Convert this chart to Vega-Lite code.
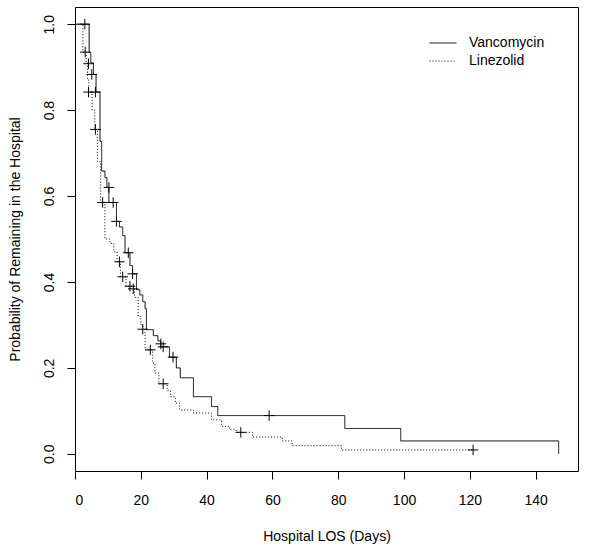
{
  "$schema": "https://vega.github.io/schema/vega-lite/v6.json",
  "width": 503,
  "height": 464,
  "autosize": {"type": "none"},
  "padding": {"left": 75, "top": 7, "right": 24, "bottom": 80},
  "background": "white",
  "config": {
    "view": {"stroke": "black", "strokeWidth": 1},
    "font": "Liberation Sans",
    "axis": {
      "domain": false,
      "grid": false,
      "tickColor": "black",
      "tickSize": 8,
      "tickWidth": 1,
      "labelColor": "black",
      "labelFont": "Liberation Sans",
      "labelFontSize": 14,
      "titleColor": "black",
      "titleFont": "Liberation Sans",
      "titleFontSize": 14,
      "titleFontWeight": "normal"
    }
  },
  "datasets": {
    "curves": [
      {"drug": "Vancomycin", "day": 0, "p": 1.0},
      {"drug": "Vancomycin", "day": 4.3, "p": 0.934},
      {"drug": "Vancomycin", "day": 4.8, "p": 0.91},
      {"drug": "Vancomycin", "day": 5.6, "p": 0.883},
      {"drug": "Vancomycin", "day": 6.4, "p": 0.842},
      {"drug": "Vancomycin", "day": 7.6, "p": 0.727},
      {"drug": "Vancomycin", "day": 8.1, "p": 0.658},
      {"drug": "Vancomycin", "day": 9.1, "p": 0.643},
      {"drug": "Vancomycin", "day": 9.7, "p": 0.62},
      {"drug": "Vancomycin", "day": 10.3, "p": 0.585},
      {"drug": "Vancomycin", "day": 12.6, "p": 0.541},
      {"drug": "Vancomycin", "day": 13.5, "p": 0.528},
      {"drug": "Vancomycin", "day": 14.5, "p": 0.508},
      {"drug": "Vancomycin", "day": 15.2, "p": 0.468},
      {"drug": "Vancomycin", "day": 16.7, "p": 0.438},
      {"drug": "Vancomycin", "day": 17.5, "p": 0.419},
      {"drug": "Vancomycin", "day": 18.7, "p": 0.382},
      {"drug": "Vancomycin", "day": 19.7, "p": 0.37},
      {"drug": "Vancomycin", "day": 20.6, "p": 0.354},
      {"drug": "Vancomycin", "day": 21.3, "p": 0.338},
      {"drug": "Vancomycin", "day": 21.7, "p": 0.289},
      {"drug": "Vancomycin", "day": 23.8, "p": 0.275},
      {"drug": "Vancomycin", "day": 25.2, "p": 0.263},
      {"drug": "Vancomycin", "day": 26.0, "p": 0.249},
      {"drug": "Vancomycin", "day": 28.7, "p": 0.225},
      {"drug": "Vancomycin", "day": 30.8, "p": 0.2},
      {"drug": "Vancomycin", "day": 32.0, "p": 0.177},
      {"drug": "Vancomycin", "day": 36.0, "p": 0.133},
      {"drug": "Vancomycin", "day": 41.5, "p": 0.11},
      {"drug": "Vancomycin", "day": 43.4, "p": 0.089},
      {"drug": "Vancomycin", "day": 82, "p": 0.059},
      {"drug": "Vancomycin", "day": 99, "p": 0.03},
      {"drug": "Vancomycin", "day": 147, "p": 0.0},
      {"drug": "Linezolid", "day": 0, "p": 1.0},
      {"drug": "Linezolid", "day": 2.4, "p": 0.935},
      {"drug": "Linezolid", "day": 3.4, "p": 0.91},
      {"drug": "Linezolid", "day": 3.8, "p": 0.87},
      {"drug": "Linezolid", "day": 4.2, "p": 0.842},
      {"drug": "Linezolid", "day": 5.2, "p": 0.8},
      {"drug": "Linezolid", "day": 6.0, "p": 0.755},
      {"drug": "Linezolid", "day": 6.8, "p": 0.68},
      {"drug": "Linezolid", "day": 7.8, "p": 0.585},
      {"drug": "Linezolid", "day": 9.1, "p": 0.5},
      {"drug": "Linezolid", "day": 10.6, "p": 0.49},
      {"drug": "Linezolid", "day": 11.8, "p": 0.47},
      {"drug": "Linezolid", "day": 12.8, "p": 0.447},
      {"drug": "Linezolid", "day": 13.8, "p": 0.412},
      {"drug": "Linezolid", "day": 15.5, "p": 0.39},
      {"drug": "Linezolid", "day": 18.1, "p": 0.364},
      {"drug": "Linezolid", "day": 19.2, "p": 0.32},
      {"drug": "Linezolid", "day": 20.0, "p": 0.3},
      {"drug": "Linezolid", "day": 20.5, "p": 0.29},
      {"drug": "Linezolid", "day": 21.3, "p": 0.242},
      {"drug": "Linezolid", "day": 23.6, "p": 0.211},
      {"drug": "Linezolid", "day": 24.3, "p": 0.188},
      {"drug": "Linezolid", "day": 25.5, "p": 0.163},
      {"drug": "Linezolid", "day": 28.0, "p": 0.147},
      {"drug": "Linezolid", "day": 29.0, "p": 0.133},
      {"drug": "Linezolid", "day": 30.5, "p": 0.118},
      {"drug": "Linezolid", "day": 31.8, "p": 0.102},
      {"drug": "Linezolid", "day": 36.0, "p": 0.095},
      {"drug": "Linezolid", "day": 41.5, "p": 0.079},
      {"drug": "Linezolid", "day": 44.5, "p": 0.064},
      {"drug": "Linezolid", "day": 47.0, "p": 0.056},
      {"drug": "Linezolid", "day": 49.0, "p": 0.05},
      {"drug": "Linezolid", "day": 54.0, "p": 0.039},
      {"drug": "Linezolid", "day": 63.0, "p": 0.03},
      {"drug": "Linezolid", "day": 66.0, "p": 0.019},
      {"drug": "Linezolid", "day": 81.0, "p": 0.009},
      {"drug": "Linezolid", "day": 121.0, "p": 0.009}
    ],
    "censored": [
      {"drug": "Vancomycin", "day": 3.0, "p": 1.0},
      {"drug": "Linezolid", "day": 3.1, "p": 0.935},
      {"drug": "Vancomycin", "day": 4.1, "p": 0.908},
      {"drug": "Vancomycin", "day": 5.1, "p": 0.883},
      {"drug": "Linezolid", "day": 4.1, "p": 0.842},
      {"drug": "Vancomycin", "day": 6.2, "p": 0.842},
      {"drug": "Linezolid", "day": 6.2, "p": 0.755},
      {"drug": "Linezolid", "day": 8.4, "p": 0.585},
      {"drug": "Vancomycin", "day": 10.3, "p": 0.62},
      {"drug": "Vancomycin", "day": 11.6, "p": 0.585},
      {"drug": "Vancomycin", "day": 12.6, "p": 0.541},
      {"drug": "Linezolid", "day": 13.5, "p": 0.447},
      {"drug": "Linezolid", "day": 14.5, "p": 0.412},
      {"drug": "Vancomycin", "day": 16.2, "p": 0.468},
      {"drug": "Linezolid", "day": 16.7, "p": 0.39},
      {"drug": "Linezolid", "day": 17.7, "p": 0.384},
      {"drug": "Vancomycin", "day": 17.5, "p": 0.419},
      {"drug": "Linezolid", "day": 20.6, "p": 0.29},
      {"drug": "Linezolid", "day": 22.9, "p": 0.242},
      {"drug": "Vancomycin", "day": 26.1, "p": 0.256},
      {"drug": "Vancomycin", "day": 26.8, "p": 0.249},
      {"drug": "Linezolid", "day": 26.8, "p": 0.163},
      {"drug": "Vancomycin", "day": 29.8, "p": 0.225},
      {"drug": "Linezolid", "day": 50.4, "p": 0.05},
      {"drug": "Vancomycin", "day": 59, "p": 0.089},
      {"drug": "Linezolid", "day": 121, "p": 0.009}
    ]
  },
  "layer": [
    {
      "data": {"name": "curves"},
      "mark": {"type": "line", "interpolate": "step-after", "color": "black", "strokeWidth": 1},
      "encoding": {
        "x": {
          "field": "day", "type": "quantitative",
          "scale": {"domain": [0, 152.88], "nice": false, "zero": false},
          "axis": {"values": [0, 20, 40, 60, 80, 100, 120, 140], "title": "Hospital LOS (Days)", "labelPadding": 14, "titlePadding": 22}
        },
        "y": {
          "field": "p", "type": "quantitative",
          "scale": {"domain": [-0.04, 1.04], "nice": false, "zero": false},
          "axis": {"values": [0, 0.2, 0.4, 0.6, 0.8, 1.0], "format": ".1f", "labelAngle": 270, "labelAlign": "center", "labelBaseline": "bottom", "labelPadding": 11, "title": "Probability of Remaining in the Hospital", "titlePadding": 20}
        },
        "strokeDash": {
          "field": "drug", "type": "nominal",
          "scale": {"domain": ["Vancomycin", "Linezolid"], "range": [[1, 0], [1, 2]]},
          "legend": {
            "title": null,
            "orient": "none",
            "legendX": 361,
            "legendY": 29,
            "padding": 0,
            "symbolType": "M-2.7,0H2.7",
            "symbolSize": 100,
            "symbolStrokeColor": "black",
            "symbolStrokeWidth": 1,
            "symbolFillColor": "transparent",
            "labelFontSize": 14,
            "labelFont": "Liberation Sans",
            "labelColor": "black",
            "labelOffset": 19,
            "rowPadding": 4
          }
        }
      }
    },
    {
      "data": {"name": "censored"},
      "mark": {"type": "point", "shape": "M-1,0H1M0,-1V1", "size": 110, "stroke": "black", "strokeWidth": 1, "filled": false, "opacity": 1},
      "encoding": {
        "x": {"field": "day", "type": "quantitative"},
        "y": {"field": "p", "type": "quantitative"}
      }
    }
  ]
}
